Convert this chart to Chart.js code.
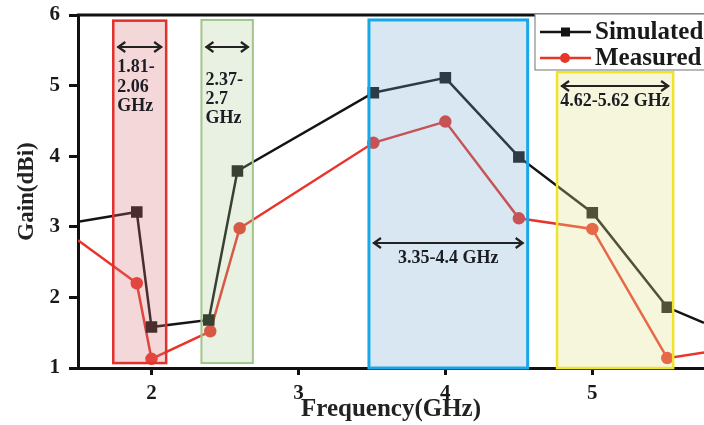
<!DOCTYPE html>
<html>
<head>
<meta charset="utf-8">
<script src="https://cdn.jsdelivr.net/npm/chart.js@4.4.1/dist/chart.umd.min.js"></script>
<style>
  html, body { margin: 0; padding: 0; background: #fff; }
  #wrap { width: 704px; height: 425px; }
</style>
</head>
<body>
<div id="wrap"><canvas id="gain"></canvas></div>
<script>
// frequency (GHz) / gain (dBi)
const simFreq  = [1.5, 1.9, 2.0, 2.39, 2.585, 3.51, 4.0, 4.5, 5.0, 5.51, 5.76];
const simGain  = [3.07, 3.21, 1.58, 1.68, 3.79, 4.90, 5.11, 3.99, 3.20, 1.86, 1.64];
const measFreq = [1.5, 1.9, 2.0, 2.4, 2.6, 3.51, 4.0, 4.5, 5.0, 5.51, 5.76];
const measGain = [2.81, 2.20, 1.13, 1.52, 2.98, 4.19, 4.49, 3.12, 2.97, 1.14, 1.22];
const xTicks = [2, 3, 4, 5];
const yTicks = [1, 2, 3, 4, 5, 6];

// shaded operating bands
const bandFrom   = [1.74, 2.34, 3.48, 4.76];
const bandTo     = [2.10, 2.69, 4.56, 5.55];
const bandLabels = [['1.81-', '2.06', 'GHz'], ['2.37-', '2.7', 'GHz'], ['3.35-4.4 GHz'], ['4.62-5.62 GHz']];

const SERIF = '"Liberation Serif", "DejaVu Serif", serif';

// styling of each band box (top/bottom in dBi, arrow row, text rows)
const bandStyle = [
  { fill: 'rgba(214,110,115,0.28)', stroke: '#e2302c', lw: 2.5, top: 5.92, bot: 1.07, arrowY: 47, text: [67, 87, 106], align: 'left' },
  { fill: 'rgba(165,200,140,0.25)', stroke: '#a3c58b', lw: 2,   top: 5.93, bot: 1.07, arrowY: 47, text: [80, 99, 118], align: 'left' },
  { fill: 'rgba(110,165,205,0.27)', stroke: '#19a8e6', lw: 3,   top: 5.93, bot: 1.0,  arrowY: 243, text: [258], align: 'center' },
  { fill: 'rgba(225,225,140,0.30)', stroke: '#f0e42a', lw: 2.5, top: 5.19, bot: 1.0,  arrowY: 86, text: [101], align: 'center' }
];

function arrow2(ctx, x1, x2, y) {
  ctx.save();
  ctx.strokeStyle = '#222';
  ctx.lineWidth = 2.2;
  ctx.beginPath();
  ctx.moveTo(x1, y); ctx.lineTo(x2, y);
  ctx.moveTo(x1 + 8, y - 5); ctx.lineTo(x1 + 1, y); ctx.lineTo(x1 + 8, y + 5);
  ctx.moveTo(x2 - 8, y - 5); ctx.lineTo(x2 - 1, y); ctx.lineTo(x2 - 8, y + 5);
  ctx.stroke();
  ctx.restore();
}

const bandPlugin = {
  id: 'bands',
  afterDatasetsDraw(chart) {
    const { ctx, scales: { x, y }, chartArea } = chart;
    ctx.save();
    bandFrom.forEach((f, i) => {
      const st = bandStyle[i];
      const l = x.getPixelForValue(f), r = x.getPixelForValue(bandTo[i]);
      const t = y.getPixelForValue(st.top), b = y.getPixelForValue(st.bot);
      ctx.fillStyle = st.fill;
      ctx.fillRect(l, t, r - l, b - t);
      ctx.strokeStyle = st.stroke;
      ctx.lineWidth = st.lw;
      ctx.strokeRect(l, t, r - l, b - t);
    });
    // top frame line
    ctx.strokeStyle = '#111';
    ctx.lineWidth = 3;
    ctx.beginPath();
    ctx.moveTo(chartArea.left - 1, chartArea.top);
    ctx.lineTo(chartArea.right, chartArea.top);
    ctx.stroke();

    bandFrom.forEach((f, i) => {
      const st = bandStyle[i];
      const l = x.getPixelForValue(f), r = x.getPixelForValue(bandTo[i]);
      arrow2(ctx, l + 4, r - 4, st.arrowY);
      ctx.fillStyle = '#1c1c24';
      ctx.font = 'bold 18px ' + SERIF;
      ctx.textBaseline = 'middle';
      ctx.textAlign = st.align;
      bandLabels[i].forEach((s, k) => {
        const tx = st.align === 'left' ? l + 4 : (l + r) / 2;
        ctx.fillText(s, tx, st.text[k]);
      });
    });

    // legend box
    const lx = 535, ly = 14;
    ctx.fillStyle = '#fff';
    ctx.fillRect(lx, ly, 200, 56);
    ctx.strokeStyle = '#8a8a8a';
    ctx.lineWidth = 1.2;
    ctx.strokeRect(lx, ly, 200, 56);
    chart.data.datasets.forEach((ds, i) => {
      const ry = 32 + i * 26;
      ctx.strokeStyle = ds.borderColor;
      ctx.lineWidth = 2.5;
      ctx.beginPath(); ctx.moveTo(540, ry); ctx.lineTo(591, ry); ctx.stroke();
      ctx.fillStyle = ds.pointBackgroundColor;
      ctx.beginPath();
      if (ds.pointStyle === 'rect') ctx.rect(561, ry - 4.5, 9, 9);
      else ctx.arc(565, ry, 5, 0, Math.PI * 2);
      ctx.fill();
      ctx.fillStyle = '#1a1a1a';
      ctx.font = 'bold 25px ' + SERIF;
      ctx.textAlign = 'left';
      ctx.textBaseline = 'middle';
      ctx.fillText(ds.label, 595, ry + 1);
    });
    ctx.restore();
  }
};

const edgeless = (n, r) => ctx => (ctx.dataIndex === 0 || ctx.dataIndex === n - 1 ? 0 : r);

new Chart(document.getElementById('gain'), {
  type: 'line',
  data: {
    datasets: [
      {
        label: 'Simulated',
        data: simFreq.map((f, i) => ({ x: f, y: simGain[i] })),
        borderColor: '#141414',
        backgroundColor: '#141414',
        pointBackgroundColor: '#141414',
        pointBorderColor: '#141414',
        pointStyle: 'rect',
        pointRadius: edgeless(simFreq.length, 6.4),
        borderWidth: 2.5,
        tension: 0
      },
      {
        label: 'Measured',
        data: measFreq.map((f, i) => ({ x: f, y: measGain[i] })),
        borderColor: '#e8352c',
        backgroundColor: '#e8352c',
        pointBackgroundColor: '#e8352c',
        pointBorderColor: '#e8352c',
        pointStyle: 'circle',
        pointRadius: edgeless(measFreq.length, 5),
        borderWidth: 2.5,
        tension: 0
      }
    ]
  },
  options: {
    responsive: true,
    maintainAspectRatio: false,
    animation: false,
    layout: { padding: { top: 15, right: 0, left: 0, bottom: 0 } },
    plugins: { legend: { display: false }, tooltip: { enabled: false } },
    scales: {
      x: {
        type: 'linear',
        min: 1.5, max: 5.76,
        afterBuildTicks: a => { a.ticks = xTicks.map(v => ({ value: v })); },
        afterFit: a => { a.height = 57; a.paddingLeft = 0; a.paddingRight = 0; },
        grid: { drawOnChartArea: false, color: '#111', tickLength: 7, tickWidth: 3 },
        border: { color: '#111', width: 3 },
        ticks: { color: '#1a1a1a', padding: 6, font: { family: SERIF, size: 21, weight: 'bold' } },
        title: { display: true, text: 'Frequency(GHz)', color: '#222', padding: { top: 0, bottom: 0 },
                 font: { family: SERIF, size: 25, weight: 'bold' } }
      },
      y: {
        min: 1, max: 6,
        afterBuildTicks: a => { a.ticks = yTicks.map(v => ({ value: v })); },
        afterFit: a => { a.width = 78; a.paddingTop = 0; a.paddingBottom = 0; },
        grid: { drawOnChartArea: false, color: '#111', tickLength: 9, tickWidth: 3 },
        border: { color: '#111', width: 3 },
        ticks: { color: '#1a1a1a', padding: 9, font: { family: SERIF, size: 21, weight: 'bold' } },
        title: { display: true, text: 'Gain(dBi)', color: '#222', padding: { top: 13, bottom: 0 },
                 font: { family: SERIF, size: 23, weight: 'bold' } }
      }
    }
  },
  plugins: [bandPlugin]
});
</script>
</body>
</html>
